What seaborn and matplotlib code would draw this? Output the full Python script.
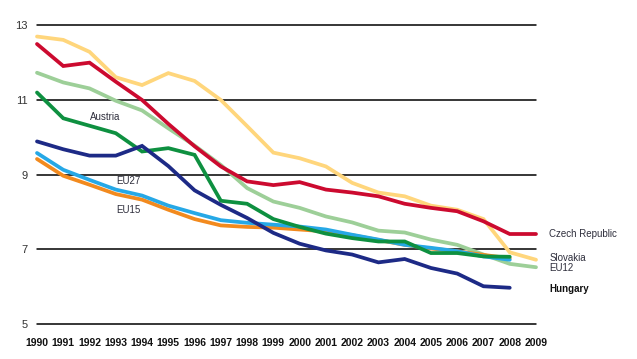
import warnings; warnings.filterwarnings('ignore')

import numpy as np
import pandas as pd
import matplotlib
matplotlib.use('Agg')
import matplotlib.pyplot as plt
import seaborn as sns

sns.set_style('white')
plt.rcParams['font.family'] = ['Liberation Sans Narrow', 'Liberation Sans', 'DejaVu Sans']

# Data
years = list(range(1990, 2010))

slovakia = [12.70, 12.61, 12.29, 11.61, 11.40, 11.72, 11.51, 11.00, 10.30, 9.59,
            9.44, 9.22, 8.78, 8.52, 8.42, 8.17, 8.06, 7.81, 6.92, 6.72]
czech = [12.50, 11.91, 12.00, 11.49, 11.00, 10.36, 9.76, 9.22, 8.82, 8.72,
         8.80, 8.60, 8.52, 8.42, 8.22, 8.11, 8.02, 7.75, 7.41, 7.41]
eu12 = [11.73, 11.47, 11.31, 10.98, 10.72, 10.24, 9.78, 9.26, 8.64, 8.28,
        8.11, 7.88, 7.72, 7.50, 7.45, 7.26, 7.12, 6.86, 6.61, 6.52]
austria = [11.20, 10.51, 10.31, 10.11, 9.62, 9.71, 9.53, 8.30, 8.22, 7.81,
           7.60, 7.42, 7.30, 7.21, 7.21, 6.90, 6.90, 6.81, 6.80]
hungary = [9.89, 9.68, 9.51, 9.51, 9.77, 9.23, 8.58, 8.19, 7.84, 7.44,
           7.15, 6.97, 6.86, 6.65, 6.74, 6.50, 6.35, 6.01, 5.97]
eu27 = [9.58, 9.13, 8.86, 8.60, 8.44, 8.17, 7.97, 7.78, 7.71, 7.66,
        7.61, 7.53, 7.39, 7.26, 7.12, 7.04, 6.95, 6.81, 6.72]
eu15 = [9.42, 8.97, 8.73, 8.48, 8.33, 8.06, 7.81, 7.64, 7.60, 7.58,
        7.53, 7.48, 7.38, 7.25, 7.12, 7.02, 6.95, 6.85, 6.76]

series = {
    'EU12': eu12,
    'Slovakia': slovakia,
    'EU15': eu15,
    'EU27': eu27,
    'Austria': austria,
    'Czech Republic': czech,
    'Hungary': hungary,
}
colors = {
    'EU12': '#9dcf98',
    'Slovakia': '#ffd67c',
    'EU15': '#f28a1e',
    'EU27': '#26a8e6',
    'Austria': '#0e9040',
    'Czech Republic': '#cc0a2f',
    'Hungary': '#1d2a86',
}

rows = []
for name, vals in series.items():
    for y, v in zip(years, vals):
        rows.append({'year': y, 'value': v, 'series': name})
df = pd.DataFrame(rows)

fig = plt.figure(figsize=(6.37, 3.59), dpi=100)
ax = fig.add_axes([37 / 637, (359 - 327.7) / 359, (536 - 37) / 637, (327.7 - 21.6) / 359])

for y in [5, 7, 9, 11, 13]:
    ax.axhline(y, color='black', lw=1.1, zorder=0)

sns.lineplot(data=df, x='year', y='value', hue='series', hue_order=list(series),
             palette=colors, lw=2.7, legend=False, ax=ax, zorder=2)
for line in ax.lines:
    line.set_clip_on(False)
    line.set_solid_joinstyle('miter')

ax.set_xlim(1990, 2009)
ax.set_ylim(4.9, 13.1)
sns.despine(ax=ax, left=True, bottom=True)
ax.set_xlabel('')
ax.set_ylabel('')
ax.set_yticks([5, 7, 9, 11, 13])
ax.set_xticks(years)
ax.tick_params(axis='y', length=0, pad=7, labelsize=8, labelcolor='#333333')
ax.tick_params(axis='x', length=0, pad=7.5, labelsize=7.5, labelcolor='#111111')
for lab in ax.get_xticklabels():
    lab.set_fontweight('bold')

txt = '#2e2e3c'
fs = 7
ax.text(1992.0, 10.54, 'Austria', fontsize=fs, color=txt, va='center')
ax.text(1993.0, 8.82, 'EU27', fontsize=fs, color=txt, va='center')
ax.text(1993.0, 8.06, 'EU15', fontsize=fs, color=txt, va='center')
ax.text(2009.5, 7.42, 'Czech Republic', fontsize=fs, color=txt, va='center')
ax.text(2009.5, 6.78, 'Slovakia', fontsize=fs, color=txt, va='center')
ax.text(2009.5, 6.5, 'EU12', fontsize=fs, color=txt, va='center')
ax.text(2009.5, 5.93, 'Hungary', fontsize=fs, color='#111111', va='center', fontweight='bold')

fig.savefig('out.png', dpi=100)
